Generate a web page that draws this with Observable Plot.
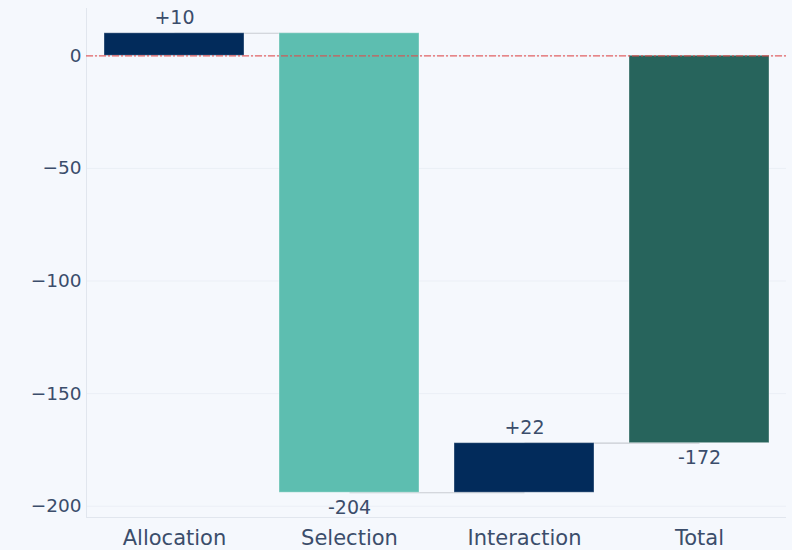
<!DOCTYPE html>
<html>
<head>
<meta charset="utf-8">
<script src="https://cdn.jsdelivr.net/npm/d3@7"></script>
<script src="https://cdn.jsdelivr.net/npm/@observablehq/plot@0.6"></script>
<style>
  html, body { margin: 0; padding: 0; background: #f5f8fd; }
</style>
</head>
<body>
<div id="chart"></div>
<script>
const categories = ["Allocation", "Selection", "Interaction", "Total"];
const deltas = [10, -204, 22, -172];
const isTotal = [false, false, false, true];
const barColors = ["#022b5b", "#5dbeb0", "#022b5b", "#27645c"];
const yTicks = [0, -50, -100, -150, -200];

let run = 0;
const rows = categories.map((c, i) => {
  let start, end;
  if (isTotal[i]) { start = 0; end = deltas[i]; }
  else { start = run; end = run + deltas[i]; run = end; }
  return {cat: c, start, end, delta: deltas[i], color: barColors[i],
    label: (deltas[i] > 0 ? "+" : "-") + Math.abs(deltas[i]),
    top: Math.max(start, end), bottom: Math.min(start, end), pos: deltas[i] > 0};
});
const links = rows.slice(0, -1).map((r, i) => ({a: r.cat, b: rows[i + 1].cat, y: r.end}));

const textColor = "#3b4d6b";
const chart = Plot.plot({
  width: 792,
  height: 550,
  marginLeft: 86,
  marginRight: 6,
  marginTop: 8,
  marginBottom: 33,
  style: {background: "#f5f8fd", fontFamily: "'DejaVu Sans', sans-serif", fontSize: "18px", color: textColor},
  x: {domain: categories, paddingInner: 0.2, paddingOuter: 0.1, label: null},
  y: {domain: [-205, 21], label: null},
  marks: [
    Plot.gridY(yTicks, {stroke: "#ebeff6", strokeOpacity: 1}),
    Plot.ruleY([-205], {stroke: "#e1e6ee"}),
    Plot.frame({anchor: "left", stroke: "#e1e6ee"}),
    Plot.link(links, {x1: "a", x2: "b", y1: "y", y2: "y", stroke: "#c8ccd2", strokeWidth: 1.2}),
    Plot.barY(rows, {x: "cat", y1: "start", y2: "end", fill: "color", stroke: "#ffffff", strokeOpacity: 0.35, strokeWidth: 1}),
    Plot.ruleY([0], {stroke: "#e24a4a", strokeOpacity: 0.85, strokeWidth: 1.2, strokeDasharray: "7,2,2,2"}),
    Plot.text(rows.filter(d => d.pos), {x: "cat", y: "top", text: "label", dy: -15, fill: textColor, fontSize: 19}),
    Plot.text(rows.filter(d => !d.pos), {x: "cat", y: "bottom", text: "label", dy: 15, fill: textColor, fontSize: 19}),
    Plot.axisY(yTicks, {tickSize: 0, tickPadding: 5, fill: textColor, fontSize: 18.5}),
    Plot.axisX({tickSize: 0, tickPadding: 13, fill: textColor, fontSize: 21})
  ]
});
document.getElementById("chart").appendChild(chart);
</script>
</body>
</html>
